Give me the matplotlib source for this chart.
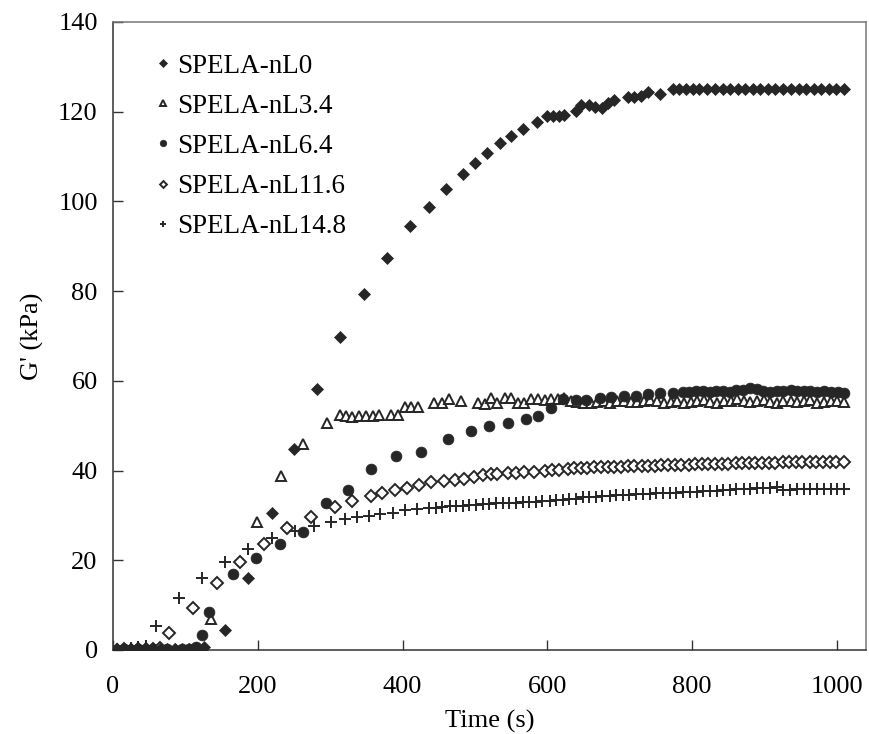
import matplotlib
matplotlib.use("Agg")
import matplotlib.pyplot as plt

plt.rcParams['font.family'] = ['Liberation Serif', 'DejaVu Serif']

# ---------------- data ----------------
labels = ["SPELA-nL0", "SPELA-nL3.4", "SPELA-nL6.4", "SPELA-nL11.6", "SPELA-nL14.8"]

t_nl0 = [5, 15, 25, 35, 45, 55, 65, 75, 85, 95, 105, 115, 125,
         155, 186, 219, 250, 282, 314, 346, 379, 410, 436, 460, 484, 500, 517,
         534, 550, 566, 585, 600, 608, 616, 623, 640, 647, 657, 666, 675, 683,
         692, 711, 720, 729, 739, 755, 773, 782, 791, 801, 810,
         821, 831, 842, 852, 863, 873, 884, 894, 905, 915, 926, 936, 947, 957,
         968, 978, 989, 999, 1010]
g_nl0 = [0.2, 0.3, 0.2, 0.4, 0.3, 0.2, 0.3, 0.2, 0.3, 0.2, 0.3, 0.4, 0.6,
         4.5, 16.0, 30.6, 44.7, 58.2, 69.8, 79.4, 87.5, 94.5, 98.8, 102.7, 106.2, 108.6, 110.7,
         113.0, 114.6, 116.1, 117.8, 119.0, 119.1, 119.0, 119.2, 120.2, 121.5, 121.5, 121.1, 120.9, 121.9,
         122.6, 123.2, 123.2, 123.4, 124.3, 123.9, 125.0, 125.0, 125.0, 125.0, 125.0,
         125.0, 125.0, 125.0, 125.0, 125.0, 125.0, 125.0, 125.0, 125.0, 125.0, 125.0, 125.0, 125.0, 125.0,
         125.0, 125.0, 125.0, 125.0, 125.0]

t_nl34 = [5, 15, 25, 35, 45, 55, 65, 75, 85, 95, 105, 115, 125,
          136, 199, 232, 263, 296, 313, 322, 330, 340, 350, 359, 368, 384, 393,
          403, 412, 421, 444, 455, 464, 481, 504, 514, 522, 531, 541, 550, 559,
          568, 577, 587, 596, 605, 614, 623,
          632, 641, 650, 660, 669, 678, 687, 696, 706, 715, 724, 733, 742, 752,
          761, 770, 779, 788, 798, 807, 816, 825, 834, 844, 853, 862, 871, 880,
          890, 899, 908, 917, 926, 936, 945, 954, 963, 972, 982, 991, 1000, 1010]
g_nl34 = [0.1, 0.1, 0.2, 0.1, 0.1, 0.2, 0.1, 0.1, 0.2, 0.1, 0.2, 0.2, 0.3,
          6.9, 28.6, 38.8, 46.0, 50.5, 52.4, 52.2, 51.9, 52.2, 52.2, 52.2, 52.5, 52.4, 52.4,
          54.1, 54.1, 54.1, 55.1, 55.1, 56.0, 55.6, 55.1, 54.8, 56.1, 55.0, 56.2, 56.2, 55.1,
          55.1, 55.9, 55.9, 55.7, 55.9, 55.9, 56.1,
          55.4, 55.2, 55.0, 55.1, 55.3, 55.5, 55.1, 55.4, 55.6, 55.2, 55.3, 55.5, 55.7, 55.4,
          55.1, 55.3, 55.6, 55.0, 55.2, 55.6, 55.8, 55.3, 55.0, 55.4, 55.6, 55.9, 55.5, 55.2,
          55.4, 55.7, 55.3, 55.0, 55.5, 55.6, 55.2, 55.4, 55.7, 55.1, 55.3, 55.6, 55.4, 55.3]

t_nl64 = [5, 15, 25, 35, 45, 55, 65, 75, 85, 95, 105,
          114, 123, 132, 166, 198, 230, 262, 294, 325, 357, 391, 425, 462, 495,
          520, 545, 570, 587, 605, 621, 639, 653, 672, 688, 706, 722, 739, 755, 773,
          787, 796, 805, 815, 824, 833, 843, 852, 861, 870, 880, 889, 898, 908,
          917, 926, 936, 945, 954, 963, 973, 982, 991, 1001, 1010]
g_nl64 = [0.1, 0.2, 0.1, 0.2, 0.1, 0.2, 0.1, 0.2, 0.1, 0.2, 0.3,
          0.7, 3.3, 8.5, 16.9, 20.4, 23.6, 26.4, 32.7, 35.7, 40.3, 43.2, 44.1, 47.0, 48.9,
          49.9, 50.7, 51.4, 52.2, 53.9, 55.9, 55.8, 55.7, 56.1, 56.5, 56.6, 56.6, 57.1, 57.4, 57.4,
          57.6, 57.5, 57.7, 57.8, 57.6, 57.7, 57.8, 57.6, 57.9, 58.0, 58.3, 58.1, 57.8, 57.6,
          57.7, 57.8, 57.9, 57.7, 57.8, 57.7, 57.6, 57.8, 57.5, 57.6, 57.4]

t_nl116 = [5, 15, 25, 35, 45, 55, 65,
           78, 110, 144, 176, 208, 241, 273, 306, 330, 356, 372, 389, 406, 423,
           439, 457, 473, 485, 499, 511, 522, 531, 545, 557, 568, 582, 596, 607,
           616, 628, 637,
           646, 655, 665, 674, 683, 692, 702, 711, 720, 730, 739, 748, 757, 767,
           776, 785, 795, 804, 813, 822, 832, 841, 850, 860, 869, 878, 887, 897,
           906, 915, 925, 934, 943, 952, 962, 971, 980, 990, 999, 1010]
g_nl116 = [0.1, 0.2, 0.1, 0.2, 0.2, 0.3, 0.4,
           3.7, 9.3, 14.9, 19.7, 23.6, 27.1, 29.6, 31.9, 33.3, 34.3, 34.9, 35.7, 36.2, 36.8,
           37.4, 37.7, 37.9, 38.1, 38.6, 39.0, 39.2, 39.2, 39.4, 39.5, 39.6, 39.7, 39.9, 40.1,
           40.1, 40.3, 40.5,
           40.6, 40.6, 40.7, 40.8, 40.8, 40.9, 40.9, 41.0, 41.0, 41.1, 41.1, 41.1, 41.2, 41.2,
           41.3, 41.3, 41.3, 41.4, 41.4, 41.4, 41.5, 41.5, 41.5, 41.6, 41.6, 41.6, 41.7, 41.7,
           41.7, 41.7, 41.8, 41.8, 41.8, 41.8, 41.9, 41.9, 41.9, 41.9, 42.0, 42.0]

t_nl148 = [5, 15, 25, 35, 45,
           59, 91, 123, 155, 187, 219, 251, 277, 301, 320, 337, 353, 369, 387,
           403, 420, 437, 446, 455, 465, 474, 483, 492, 501, 511, 520, 529, 538,
           547, 557, 566, 575, 584, 593, 603, 612, 621, 630, 639,
           649, 658, 667, 676, 686, 695, 704, 713, 723, 732, 741, 750, 760, 769,
           778, 787, 797, 806, 815, 824, 834, 843, 852, 861, 871, 880, 889, 898,
           908, 917, 926, 935, 945, 954, 963, 972, 982, 991, 1000, 1010]
g_nl148 = [0.2, 0.3, 0.4, 0.6, 0.9,
           5.4, 11.7, 16.1, 19.7, 22.5, 25.0, 26.6, 27.6, 28.6, 29.1, 29.6, 29.9, 30.3, 30.6,
           31.1, 31.4, 31.6, 31.7, 31.8, 32.0, 32.1, 32.2, 32.3, 32.3, 32.5, 32.5, 32.7, 32.7,
           32.8, 32.8, 32.9, 33.1, 33.1, 33.2, 33.3, 33.4, 33.4, 33.6, 33.7,
           34.0, 34.1, 34.2, 34.3, 34.4, 34.5, 34.5, 34.6, 34.7, 34.8, 34.8, 34.9, 35.0, 35.0,
           35.1, 35.2, 35.2, 35.3, 35.4, 35.4, 35.5, 35.6, 35.7, 35.8, 35.9, 36.0, 36.1, 36.2,
           36.2, 36.3, 35.7, 35.7, 35.8, 35.8, 35.8, 35.9, 35.9, 35.9, 35.9, 36.0]

x_ticks = [0, 200, 400, 600, 800, 1000]
y_ticks = [0, 20, 40, 60, 80, 100, 120, 140]

# ---------------- plot ----------------
C = '#262626'
fig = plt.figure(figsize=(8.7, 7.34), dpi=100)
ax = fig.add_axes([113 / 870, 1 - 650 / 734, (866 - 113) / 870, (650 - 22) / 734])

ax.plot(t_nl0, g_nl0, ls='none', marker='D', ms=6.4, mfc=C, mec=C, mew=0.5, label=labels[0], zorder=3)
ax.plot(t_nl34, g_nl34, ls='none', marker='^', ms=7.5, mfc='white', mec=C, mew=1.4, label=labels[1], zorder=2)
ax.plot(t_nl64, g_nl64, ls='none', marker='o', ms=7.8, mfc=C, mec=C, mew=0.5, label=labels[2], zorder=2)
ax.plot(t_nl116, g_nl116, ls='none', marker='D', ms=5.8, mfc='white', mec=C, mew=1.4, label=labels[3], zorder=2)
ax.plot(t_nl148, g_nl148, ls='none', marker='+', ms=8, mec=C, mew=1.4, label=labels[4], zorder=2)

ax.set_xlim(0, 1040)
ax.set_ylim(0, 140)
ax.set_xticks(x_ticks)
ax.set_yticks(y_ticks)
ax.tick_params(axis='both', direction='in', length=7, width=1.0, color='#333333',
               labelsize=19, labelcolor='black')
ax.tick_params(axis='x', pad=19)
ax.tick_params(axis='y', pad=11)
ax.tick_params(top=False, right=False)

for s in ['left', 'bottom']:
    ax.spines[s].set_color('#333333')
    ax.spines[s].set_linewidth(1.1)
for s in ['top', 'right']:
    ax.spines[s].set_color('#777777')
    ax.spines[s].set_linewidth(1.1)

ax.set_xlabel('Time (s)', fontsize=19, labelpad=8)
ax.set_ylabel("G' (kPa)", fontsize=19, labelpad=10)

leg = ax.legend(loc='upper left', bbox_to_anchor=(0.043, 0.967), frameon=False, fontsize=19.5,
                markerscale=0.6, handlelength=0.5, handletextpad=0.28, labelspacing=0.56,
                borderaxespad=0)

fig.savefig('out.png', dpi=100)
